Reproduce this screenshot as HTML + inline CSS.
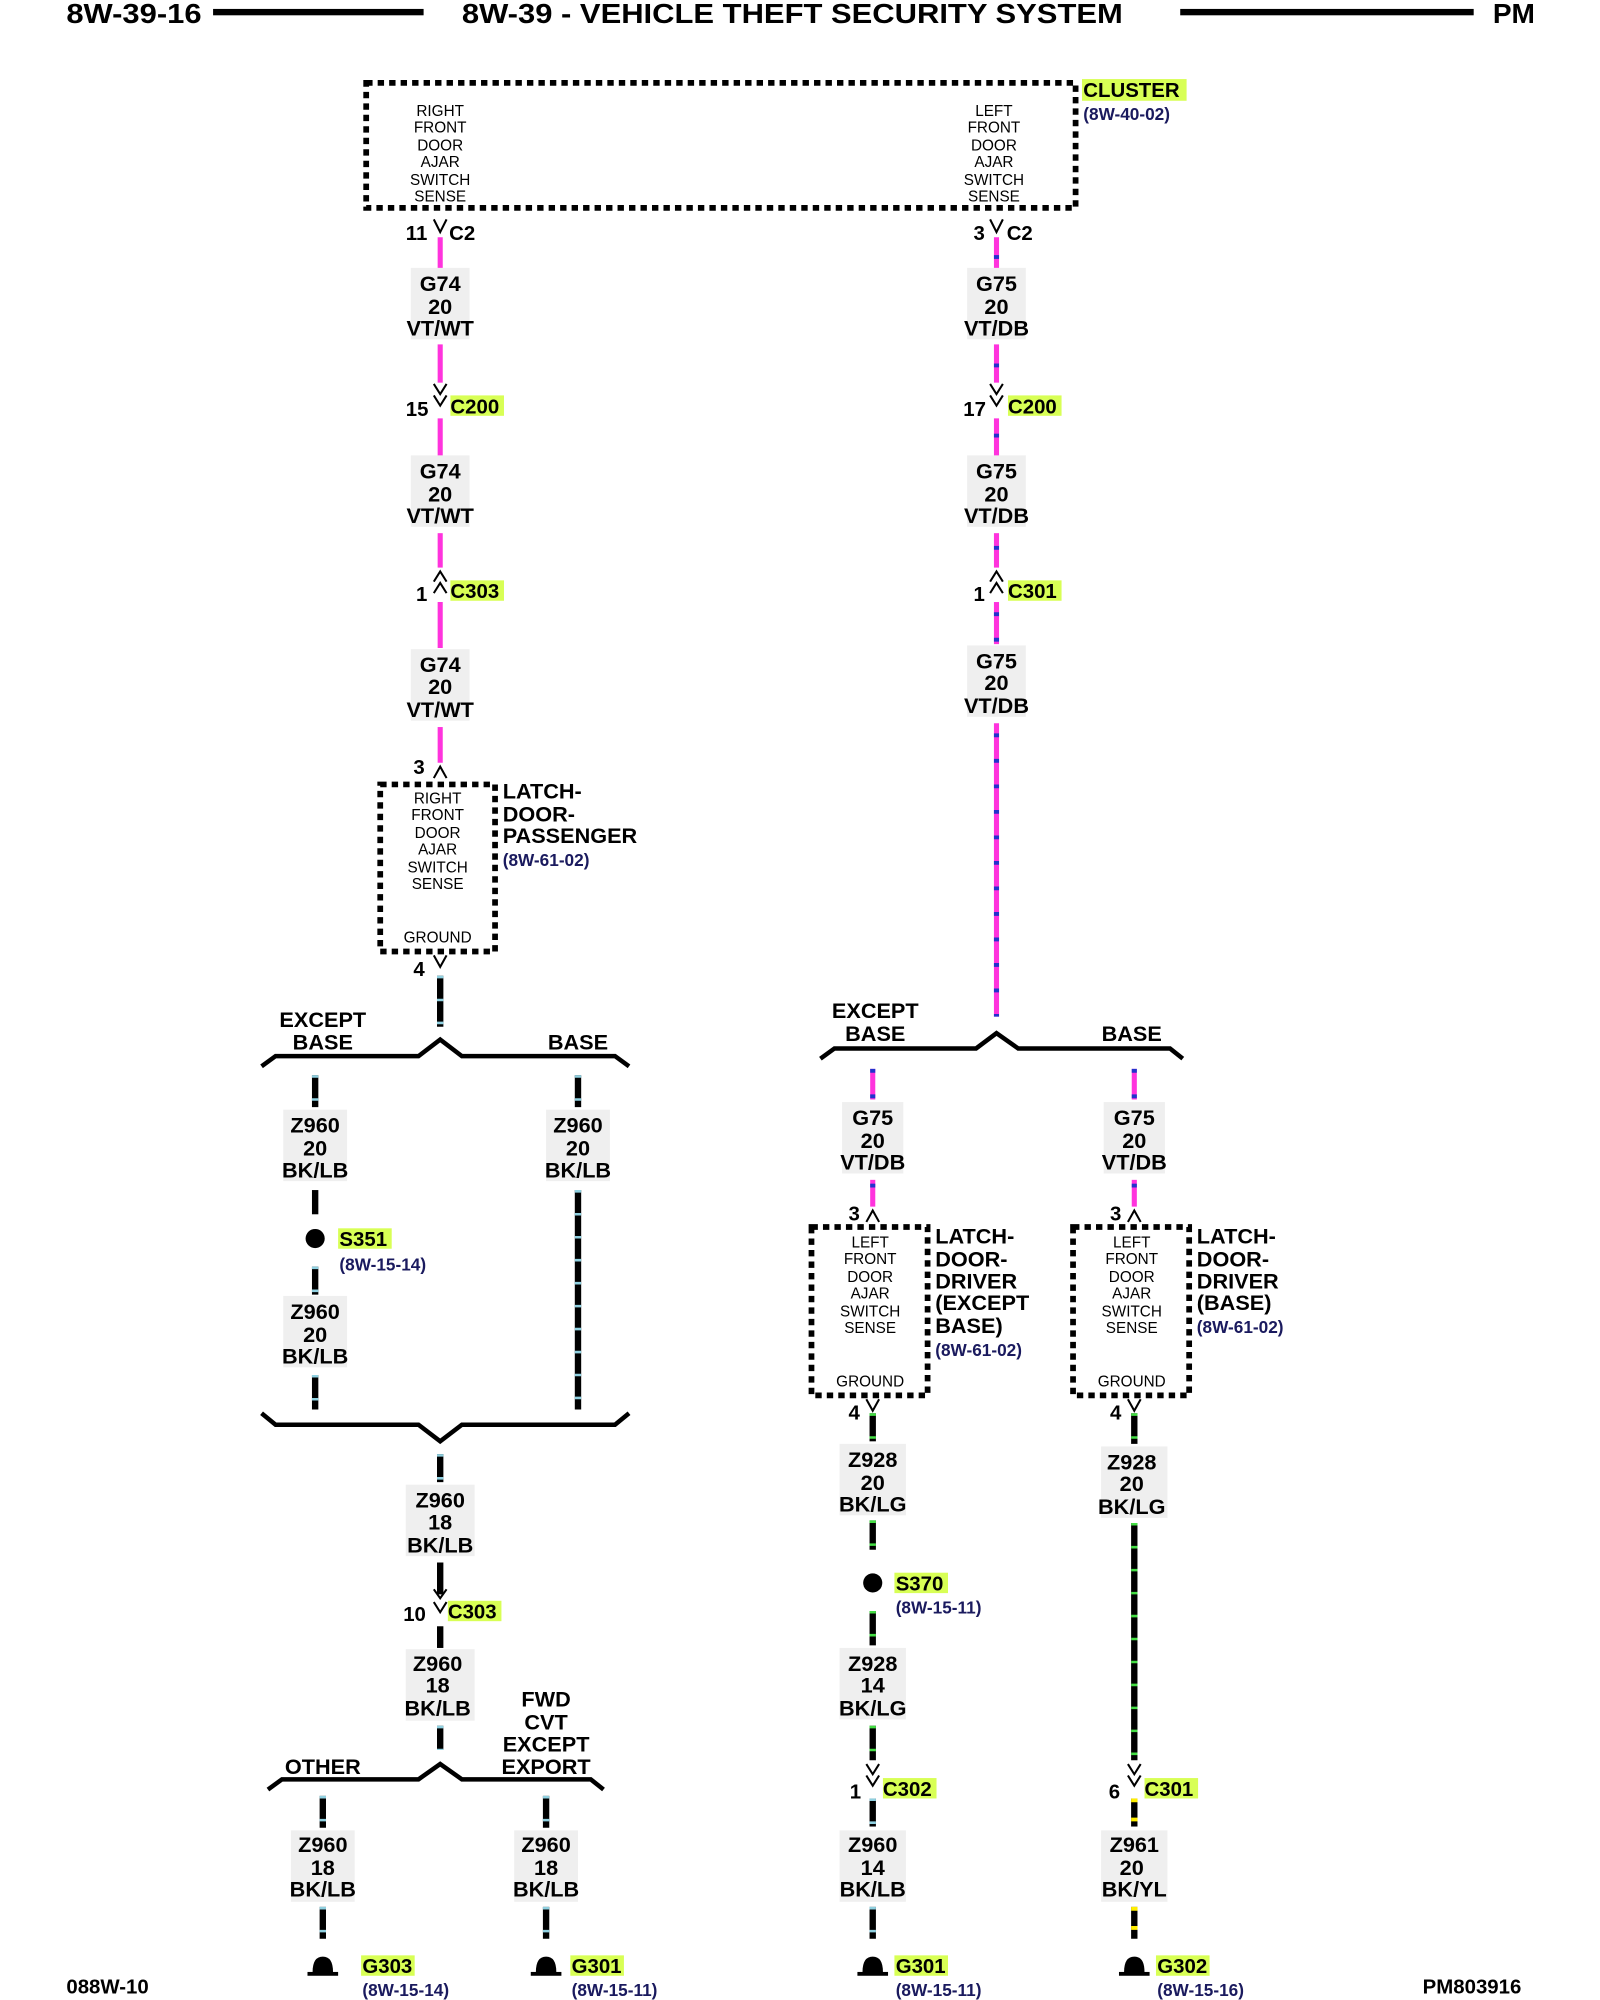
<!DOCTYPE html>
<html><head><meta charset="utf-8"><style>
html,body{margin:0;padding:0;background:#fff}
svg{display:block}
text{font-family:"Liberation Sans",sans-serif;fill:#000}
.h{font-size:22px;font-weight:bold}
.l{font-size:17px;font-weight:bold;text-anchor:middle}
.s{font-size:12px;text-anchor:middle}
.n{font-size:16px;font-weight:bold}
.r{font-size:13.5px;font-weight:bold;fill:#1a1a5e}
.c{font-size:16px;font-weight:bold}
.box{fill:none;stroke:#000;stroke-width:4.5;stroke-dasharray:5 4}
.mg{stroke:#ff33dd;stroke-width:4}
.bl{stroke:#2233cc;stroke-width:4;stroke-dasharray:3 17}
.bk{stroke:#000;stroke-width:5}
.lb{stroke:#8fd0e0;stroke-width:5;stroke-dasharray:2 16}
.lg{stroke:#44dd44;stroke-width:5;stroke-dasharray:2 16}
.yl{stroke:#ffee00;stroke-width:5;stroke-dasharray:3 12}
.br{fill:none;stroke:#000;stroke-width:3.5}
.ch{fill:none;stroke:#000;stroke-width:1.6}
.bg{fill:#efefef}
.hl{fill:#d8ff55}
</style></head><body>
<svg width="1600" height="2000" viewBox="0 0 1254 1568" preserveAspectRatio="none" xmlns="http://www.w3.org/2000/svg">
<!-- header -->
<text class="h" x="52" y="18" textLength="106" lengthAdjust="spacingAndGlyphs">8W-39-16</text>
<rect x="167" y="7" width="165" height="5"/>
<text class="h" x="362" y="18" textLength="518" lengthAdjust="spacingAndGlyphs">8W-39 - VEHICLE THEFT SECURITY SYSTEM</text>
<rect x="925" y="7" width="230" height="5"/>
<text class="h" x="1170" y="18">PM</text>

<!-- cluster box -->
<rect class="box" x="287" y="65" width="556" height="98"/>
<g class="s"><text x="345" y="91">RIGHT</text><text x="345" y="104">FRONT</text><text x="345" y="118">DOOR</text><text x="345" y="131">AJAR</text><text x="345" y="145">SWITCH</text><text x="345" y="158">SENSE</text>
<text x="779" y="91">LEFT</text><text x="779" y="104">FRONT</text><text x="779" y="118">DOOR</text><text x="779" y="131">AJAR</text><text x="779" y="145">SWITCH</text><text x="779" y="158">SENSE</text></g>
<rect class="hl" x="848" y="62" width="82" height="17"/>
<text class="c" x="849" y="76">CLUSTER</text>
<text class="r" x="849" y="94">(8W-40-02)</text>

<!-- LEFT column x=345 -->
<line class="mg" x1="345" y1="186" x2="345" y2="212"/>
<line class="mg" x1="345" y1="270" x2="345" y2="300"/>
<line class="mg" x1="345" y1="328" x2="345" y2="358"/>
<line class="mg" x1="345" y1="418" x2="345" y2="445"/>
<line class="mg" x1="345" y1="472" x2="345" y2="508"/>
<line class="mg" x1="345" y1="570" x2="345" y2="598"/>
<text class="n" x="318" y="188">11</text><path class="ch" d="M340 172 L345 182 L350 172"/><text class="n" x="352" y="188">C2</text>
<rect class="bg" x="322" y="210" width="46" height="56"/>
<text class="l" x="345" y="228">G74</text><text class="l" x="345" y="246">20</text><text class="l" x="345" y="263">VT/WT</text>
<path class="ch" d="M340 301 L345 309 L350 301 M340 310 L345 318 L350 310"/>
<text class="n" x="318" y="326">15</text><rect class="hl" x="353" y="310" width="42" height="16"/><text class="c" x="353" y="324">C200</text>
<rect class="bg" x="322" y="357" width="46" height="56"/>
<text class="l" x="345" y="375">G74</text><text class="l" x="345" y="393">20</text><text class="l" x="345" y="410">VT/WT</text>
<path class="ch" d="M340 456 L345 448 L350 456 M340 465 L345 457 L350 465"/>
<text class="n" x="326" y="471">1</text><rect class="hl" x="353" y="455" width="42" height="16"/><text class="c" x="353" y="469">C303</text>
<rect class="bg" x="322" y="509" width="46" height="56"/>
<text class="l" x="345" y="527">G74</text><text class="l" x="345" y="544">20</text><text class="l" x="345" y="562">VT/WT</text>
<text class="n" x="324" y="607">3</text><path class="ch" d="M340 610 L345 601 L350 610"/>
<rect class="box" x="298" y="615" width="90" height="131"/>
<g class="s"><text x="343" y="630">RIGHT</text><text x="343" y="643">FRONT</text><text x="343" y="657">DOOR</text><text x="343" y="670">AJAR</text><text x="343" y="684">SWITCH</text><text x="343" y="697">SENSE</text><text x="343" y="739">GROUND</text></g>
<text class="l" style="text-anchor:start" x="394" y="626">LATCH-</text><text class="l" style="text-anchor:start" x="394" y="644">DOOR-</text><text class="l" style="text-anchor:start" x="394" y="661">PASSENGER</text>
<text class="r" x="394" y="679">(8W-61-02)</text>
<text class="n" x="324" y="765">4</text><path class="ch" d="M340 749 L345 758 L350 749"/>
<line class="bk" x1="345" y1="765" x2="345" y2="805"/><line class="lb" x1="345" y1="765" x2="345" y2="805"/>
<path class="br" d="M205 836 L216 828 L328 828 L345 815 L362 828 L482 828 L493 836"/>
<text class="l" x="253" y="805">EXCEPT</text><text class="l" x="253" y="823">BASE</text><text class="l" x="453" y="823">BASE</text>

<!-- left sub x=247 -->
<g><line class="bk" x1="247" y1="843" x2="247" y2="868"/><line class="lb" x1="247" y1="843" x2="247" y2="868"/>
<rect class="bg" x="222" y="870" width="50" height="56"/>
<text class="l" x="247" y="888">Z960</text><text class="l" x="247" y="906">20</text><text class="l" x="247" y="923">BK/LB</text>
<line class="bk" x1="247" y1="933" x2="247" y2="952"/>
<circle cx="247" cy="971" r="7.5"/>
<rect class="hl" x="265" y="963" width="42" height="16"/><text class="c" x="266" y="977">S351</text>
<text class="r" x="266" y="996">(8W-15-14)</text>
<line class="bk" x1="247" y1="993" x2="247" y2="1015"/><line class="lb" x1="247" y1="993" x2="247" y2="1015"/>
<rect class="bg" x="222" y="1016" width="50" height="56"/>
<text class="l" x="247" y="1034">Z960</text><text class="l" x="247" y="1052">20</text><text class="l" x="247" y="1069">BK/LB</text>
<line class="bk" x1="247" y1="1078" x2="247" y2="1105"/><line class="lb" x1="247" y1="1078" x2="247" y2="1105"/></g>
<!-- right sub x=453 -->
<line class="bk" x1="453" y1="843" x2="453" y2="868"/><line class="lb" x1="453" y1="843" x2="453" y2="868"/>
<rect class="bg" x="428" y="870" width="50" height="56"/>
<text class="l" x="453" y="888">Z960</text><text class="l" x="453" y="906">20</text><text class="l" x="453" y="923">BK/LB</text>
<line class="bk" x1="453" y1="933" x2="453" y2="1105"/><line class="lb" x1="453" y1="933" x2="453" y2="1105"/>
<path class="br" d="M205 1108 L216 1117 L328 1117 L345 1130 L362 1117 L482 1117 L493 1108"/>

<line class="bk" x1="345" y1="1140" x2="345" y2="1162"/><line class="lb" x1="345" y1="1140" x2="345" y2="1162"/>
<rect class="bg" x="318" y="1164" width="54" height="56"/>
<text class="l" x="345" y="1182">Z960</text><text class="l" x="345" y="1199">18</text><text class="l" x="345" y="1217">BK/LB</text>
<line class="bk" x1="345" y1="1225" x2="345" y2="1250"/>
<path class="ch" d="M340 1246 L345 1253 L350 1246 M340 1256 L345 1264 L350 1256"/>
<text class="n" x="316" y="1271">10</text><rect class="hl" x="351" y="1255" width="42" height="16"/><text class="c" x="351" y="1269">C303</text>
<line class="bk" x1="345" y1="1275" x2="345" y2="1292"/>
<rect class="bg" x="318" y="1293" width="54" height="56"/>
<text class="l" x="343" y="1310">Z960</text><text class="l" x="343" y="1327">18</text><text class="l" x="343" y="1345">BK/LB</text>
<line class="bk" x1="345" y1="1353" x2="345" y2="1372"/><line class="lb" x1="345" y1="1353" x2="345" y2="1372"/>
<path class="br" d="M210 1403 L221 1395 L328 1395 L345 1383 L362 1395 L463 1395 L473 1403"/>
<text class="l" x="253" y="1391">OTHER</text>
<text class="l" x="428" y="1338">FWD</text><text class="l" x="428" y="1356">CVT</text><text class="l" x="428" y="1373">EXCEPT</text><text class="l" x="428" y="1391">EXPORT</text>

<!-- ground legs -->
<g>
<line class="bk" x1="253" y1="1408" x2="253" y2="1433"/><line class="lb" x1="253" y1="1408" x2="253" y2="1433"/>
<rect class="bg" x="228" y="1435" width="50" height="56"/>
<text class="l" x="253" y="1452">Z960</text><text class="l" x="253" y="1470">18</text><text class="l" x="253" y="1487">BK/LB</text>
<line class="bk" x1="253" y1="1495" x2="253" y2="1520"/><line class="lb" x1="253" y1="1495" x2="253" y2="1520"/>
<path d="M245 1546 Q245 1534 253 1534 Q261 1534 261 1546 Z"/><rect x="241" y="1546" width="24" height="3"/>
<rect class="hl" x="283" y="1533" width="42" height="16"/><text class="c" x="284" y="1547">G303</text>
<text class="r" x="284" y="1565">(8W-15-14)</text>
</g>
<g>
<line class="bk" x1="428" y1="1408" x2="428" y2="1433"/><line class="lb" x1="428" y1="1408" x2="428" y2="1433"/>
<rect class="bg" x="403" y="1435" width="50" height="56"/>
<text class="l" x="428" y="1452">Z960</text><text class="l" x="428" y="1470">18</text><text class="l" x="428" y="1487">BK/LB</text>
<line class="bk" x1="428" y1="1495" x2="428" y2="1520"/><line class="lb" x1="428" y1="1495" x2="428" y2="1520"/>
<path d="M420 1546 Q420 1534 428 1534 Q436 1534 436 1546 Z"/><rect x="416" y="1546" width="24" height="3"/>
<rect class="hl" x="447" y="1533" width="42" height="16"/><text class="c" x="448" y="1547">G301</text>
<text class="r" x="448" y="1565">(8W-15-11)</text>
</g>

<!-- RIGHT column x=781 -->
<line class="mg" x1="781" y1="186" x2="781" y2="212"/><line class="bl" x1="781" y1="200" x2="781" y2="212"/>
<line class="mg" x1="781" y1="270" x2="781" y2="300"/><line class="bl" x1="781" y1="285" x2="781" y2="300"/>
<line class="mg" x1="781" y1="328" x2="781" y2="358"/><line class="bl" x1="781" y1="340" x2="781" y2="358"/>
<line class="mg" x1="781" y1="418" x2="781" y2="445"/><line class="bl" x1="781" y1="428" x2="781" y2="445"/>
<line class="mg" x1="781" y1="472" x2="781" y2="505"/><line class="bl" x1="781" y1="480" x2="781" y2="505"/>
<line class="mg" x1="781" y1="567" x2="781" y2="797"/><line class="bl" x1="781" y1="575" x2="781" y2="797"/>
<text class="n" x="763" y="188">3</text><path class="ch" d="M776 172 L781 182 L786 172"/><text class="n" x="789" y="188">C2</text>
<rect class="bg" x="758" y="210" width="46" height="56"/>
<text class="l" x="781" y="228">G75</text><text class="l" x="781" y="246">20</text><text class="l" x="781" y="263">VT/DB</text>
<path class="ch" d="M776 301 L781 309 L786 301 M776 310 L781 318 L786 310"/>
<text class="n" x="755" y="326">17</text><rect class="hl" x="790" y="310" width="42" height="16"/><text class="c" x="790" y="324">C200</text>
<rect class="bg" x="758" y="357" width="46" height="56"/>
<text class="l" x="781" y="375">G75</text><text class="l" x="781" y="393">20</text><text class="l" x="781" y="410">VT/DB</text>
<path class="ch" d="M776 456 L781 448 L786 456 M776 465 L781 457 L786 465"/>
<text class="n" x="763" y="471">1</text><rect class="hl" x="790" y="455" width="42" height="16"/><text class="c" x="790" y="469">C301</text>
<rect class="bg" x="758" y="506" width="46" height="56"/>
<text class="l" x="781" y="524">G75</text><text class="l" x="781" y="541">20</text><text class="l" x="781" y="559">VT/DB</text>
<path class="br" d="M643 830 L654 822 L765 822 L781 810 L798 822 L917 822 L927 830"/>
<text class="l" x="686" y="798">EXCEPT</text><text class="l" x="686" y="816">BASE</text><text class="l" x="887" y="816">BASE</text>

<!-- x=684 driver except base -->
<line class="mg" x1="684" y1="838" x2="684" y2="862"/><line class="bl" x1="684" y1="838" x2="684" y2="862"/>
<rect class="bg" x="660" y="864" width="48" height="56"/>
<text class="l" x="684" y="882">G75</text><text class="l" x="684" y="900">20</text><text class="l" x="684" y="917">VT/DB</text>
<line class="mg" x1="684" y1="925" x2="684" y2="946"/><line class="bl" x1="684" y1="928" x2="684" y2="946"/>
<text class="n" x="665" y="957">3</text><path class="ch" d="M679 958 L684 949 L689 958"/>
<rect class="box" x="636" y="962" width="91" height="132"/>
<g class="s"><text x="682" y="978">LEFT</text><text x="682" y="991">FRONT</text><text x="682" y="1005">DOOR</text><text x="682" y="1018">AJAR</text><text x="682" y="1032">SWITCH</text><text x="682" y="1045">SENSE</text><text x="682" y="1087">GROUND</text></g>
<g class="l" style="text-anchor:start"><text x="733" y="975" style="text-anchor:start">LATCH-</text><text x="733" y="993" style="text-anchor:start">DOOR-</text><text x="733" y="1010" style="text-anchor:start">DRIVER</text><text x="733" y="1027" style="text-anchor:start">(EXCEPT</text><text x="733" y="1045" style="text-anchor:start">BASE)</text></g>
<text class="r" x="733" y="1063">(8W-61-02)</text>
<text class="n" x="665" y="1113">4</text><path class="ch" d="M679 1097 L684 1106 L689 1097"/>
<line class="bk" x1="684" y1="1108" x2="684" y2="1130"/><line class="lg" x1="684" y1="1108" x2="684" y2="1130"/>
<rect class="bg" x="658" y="1132" width="52" height="56"/>
<text class="l" x="684" y="1150">Z928</text><text class="l" x="684" y="1168">20</text><text class="l" x="684" y="1185">BK/LG</text>
<line class="bk" x1="684" y1="1192" x2="684" y2="1215"/><line class="lg" x1="684" y1="1192" x2="684" y2="1215"/>
<circle cx="684" cy="1241" r="7.5"/>
<rect class="hl" x="701" y="1233" width="42" height="16"/><text class="c" x="702" y="1247">S370</text>
<text class="r" x="702" y="1265">(8W-15-11)</text>
<line class="bk" x1="684" y1="1263" x2="684" y2="1290"/><line class="lg" x1="684" y1="1263" x2="684" y2="1290"/>
<rect class="bg" x="658" y="1292" width="52" height="56"/>
<text class="l" x="684" y="1310">Z928</text><text class="l" x="684" y="1327">14</text><text class="l" x="684" y="1345">BK/LG</text>
<line class="bk" x1="684" y1="1353" x2="684" y2="1380"/><line class="lg" x1="684" y1="1353" x2="684" y2="1380"/>
<path class="ch" d="M679 1383 L684 1391 L689 1383 M679 1392 L684 1400 L689 1392"/>
<text class="n" x="666" y="1410">1</text><rect class="hl" x="692" y="1394" width="42" height="16"/><text class="c" x="692" y="1408">C302</text>
<line class="bk" x1="684" y1="1410" x2="684" y2="1432"/><line class="lb" x1="684" y1="1410" x2="684" y2="1432"/>
<rect class="bg" x="658" y="1435" width="52" height="56"/>
<text class="l" x="684" y="1452">Z960</text><text class="l" x="684" y="1470">14</text><text class="l" x="684" y="1487">BK/LB</text>
<line class="bk" x1="684" y1="1495" x2="684" y2="1520"/><line class="lb" x1="684" y1="1495" x2="684" y2="1520"/>
<path d="M676 1546 Q676 1534 684 1534 Q692 1534 692 1546 Z"/><rect x="672" y="1546" width="24" height="3"/>
<rect class="hl" x="701" y="1533" width="42" height="16"/><text class="c" x="702" y="1547">G301</text>
<text class="r" x="702" y="1565">(8W-15-11)</text>

<!-- x=889 driver base -->
<line class="mg" x1="889" y1="838" x2="889" y2="862"/><line class="bl" x1="889" y1="838" x2="889" y2="862"/>
<rect class="bg" x="865" y="864" width="48" height="56"/>
<text class="l" x="889" y="882">G75</text><text class="l" x="889" y="900">20</text><text class="l" x="889" y="917">VT/DB</text>
<line class="mg" x1="889" y1="925" x2="889" y2="946"/><line class="bl" x1="889" y1="928" x2="889" y2="946"/>
<text class="n" x="870" y="957">3</text><path class="ch" d="M884 958 L889 949 L894 958"/>
<rect class="box" x="841" y="962" width="91" height="132"/>
<g class="s"><text x="887" y="978">LEFT</text><text x="887" y="991">FRONT</text><text x="887" y="1005">DOOR</text><text x="887" y="1018">AJAR</text><text x="887" y="1032">SWITCH</text><text x="887" y="1045">SENSE</text><text x="887" y="1087">GROUND</text></g>
<g class="l"><text x="938" y="975" style="text-anchor:start">LATCH-</text><text x="938" y="993" style="text-anchor:start">DOOR-</text><text x="938" y="1010" style="text-anchor:start">DRIVER</text><text x="938" y="1027" style="text-anchor:start">(BASE)</text></g>
<text class="r" x="938" y="1045">(8W-61-02)</text>
<text class="n" x="870" y="1113">4</text><path class="ch" d="M884 1097 L889 1106 L894 1097"/>
<line class="bk" x1="889" y1="1108" x2="889" y2="1132"/><line class="lg" x1="889" y1="1108" x2="889" y2="1132"/>
<rect class="bg" x="863" y="1134" width="52" height="56"/>
<text class="l" x="887" y="1152">Z928</text><text class="l" x="887" y="1169">20</text><text class="l" x="887" y="1187">BK/LG</text>
<line class="bk" x1="889" y1="1194" x2="889" y2="1380"/><line class="lg" x1="889" y1="1194" x2="889" y2="1380"/>
<path class="ch" d="M884 1383 L889 1391 L894 1383 M884 1392 L889 1400 L894 1392"/>
<text class="n" x="869" y="1410">6</text><rect class="hl" x="897" y="1394" width="42" height="16"/><text class="c" x="897" y="1408">C301</text>
<line class="bk" x1="889" y1="1410" x2="889" y2="1432"/><line class="yl" x1="889" y1="1410" x2="889" y2="1432"/>
<rect class="bg" x="863" y="1435" width="52" height="56"/>
<text class="l" x="889" y="1452">Z961</text><text class="l" x="887" y="1470">20</text><text class="l" x="889" y="1487">BK/YL</text>
<line class="bk" x1="889" y1="1495" x2="889" y2="1520"/><line class="yl" x1="889" y1="1495" x2="889" y2="1520"/>
<path d="M881 1546 Q881 1534 889 1534 Q897 1534 897 1546 Z"/><rect x="877" y="1546" width="24" height="3"/>
<rect class="hl" x="906" y="1533" width="42" height="16"/><text class="c" x="907" y="1547">G302</text>
<text class="r" x="907" y="1565">(8W-15-16)</text>

<!-- footer -->
<text x="52" y="1563" style="font-size:16px;font-weight:bold">088W-10</text>
<text x="1115" y="1563" style="font-size:16px;font-weight:bold">PM803916</text>
</svg>
</body></html>
